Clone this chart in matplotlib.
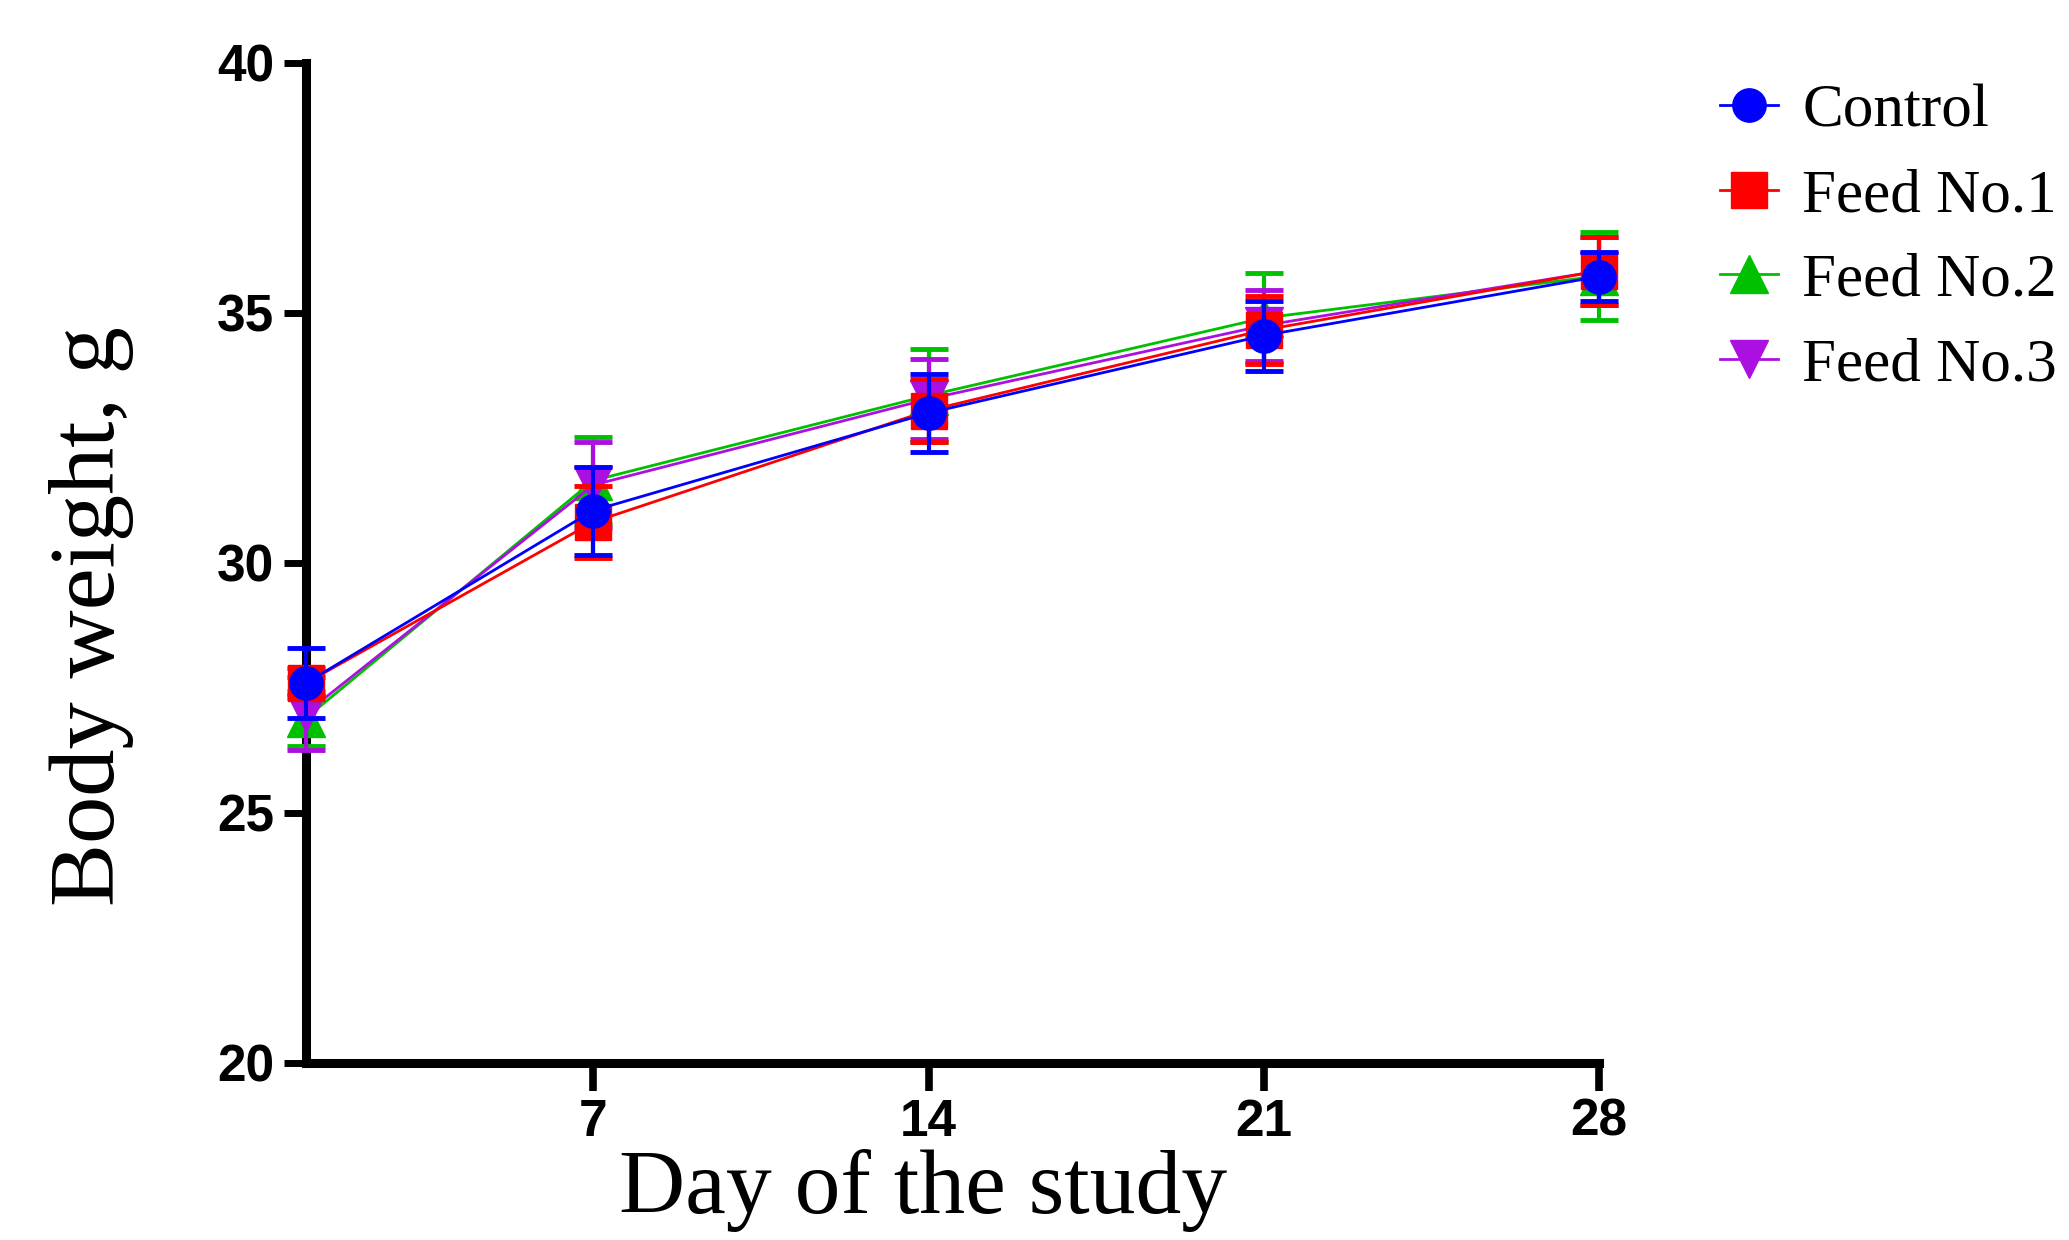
import numpy as np
from matplotlib import pyplot as plt

days = [1, 7, 14, 21, 28]
groups = ['Control', 'Feed No.1', 'Feed No.2', 'Feed No.3']
control = [27.6, 31.05, 33.0, 34.55, 35.73]
control_err = [0.7, 0.88, 0.78, 0.7, 0.49]
feed1 = [27.6, 30.82, 33.05, 34.66, 35.84]
feed1_err = [0.3, 0.72, 0.63, 0.68, 0.68]
feed2 = [26.9, 31.65, 33.35, 34.9, 35.74]
feed2_err = [0.55, 0.87, 0.93, 0.9, 0.88]
feed3 = [27.0, 31.56, 33.28, 34.75, 35.84]
feed3_err = [0.73, 0.86, 0.8, 0.7, 0.68]
x_ticks = [7, 14, 21, 28]
y_ticks = [20, 25, 30, 35, 40]

series = [control, feed1, feed2, feed3]
errors = [control_err, feed1_err, feed2_err, feed3_err]
colors = ['#0000ff', '#ff0000', '#00c000', '#ac10e0']
markers = ['o', 's', '^', 'v']
msizes = [24, 26, 27, 27]
zorders = [9, 8, 6, 7]

fig = plt.figure(figsize=(20.69, 12.4), dpi=100)
ax = fig.add_axes([306 / 2069, 177 / 1240, 1293 / 2069, 1000 / 1240])

handles = []
for i in range(4):
    ax.errorbar(days, series[i], yerr=errors[i], fmt='none', ecolor=colors[i],
                elinewidth=3, capsize=14, capthick=3.5, clip_on=False, zorder=zorders[i])
    ln, = ax.plot(days, series[i], color=colors[i], lw=2, marker=markers[i],
                  ms=msizes[i], mec=colors[i], clip_on=False, zorder=zorders[i] + 0.5,
                  label=groups[i])
    handles.append(ln)

ax.set_xlim(1, 28)
ax.set_ylim(20, 40)
ax.set_xticks(x_ticks)
ax.set_yticks(y_ticks)
for s in ['top', 'right']:
    ax.spines[s].set_visible(False)
for s in ['left', 'bottom']:
    ax.spines[s].set_linewidth(6.5)
ax.tick_params(axis='y', length=16, width=5, pad=7)
ax.tick_params(axis='x', length=20, width=5.5, pad=5)
for lab in ax.get_xticklabels() + ax.get_yticklabels():
    lab.set_fontfamily('Liberation Sans')
    lab.set_fontweight('bold')
    lab.set_fontsize(37)

ax.set_xlabel('Day of the study', family='Liberation Serif', fontsize=66)
ax.set_ylabel('Body weight, g', family='Liberation Serif', fontsize=68)
ax.xaxis.set_label_coords(0.477, -0.086)
ax.yaxis.set_label_coords(-0.133, 0.447)

fig.legend(handles=handles, loc='upper left', bbox_to_anchor=(1720 / 2069, 1 - 84 / 1240),
           frameon=False, prop={'family': 'Liberation Serif', 'size': 44},
           handlelength=0.95, handletextpad=0.4, labelspacing=0.47,
           borderpad=0, borderaxespad=0)

fig.savefig('out.png', dpi=100)
